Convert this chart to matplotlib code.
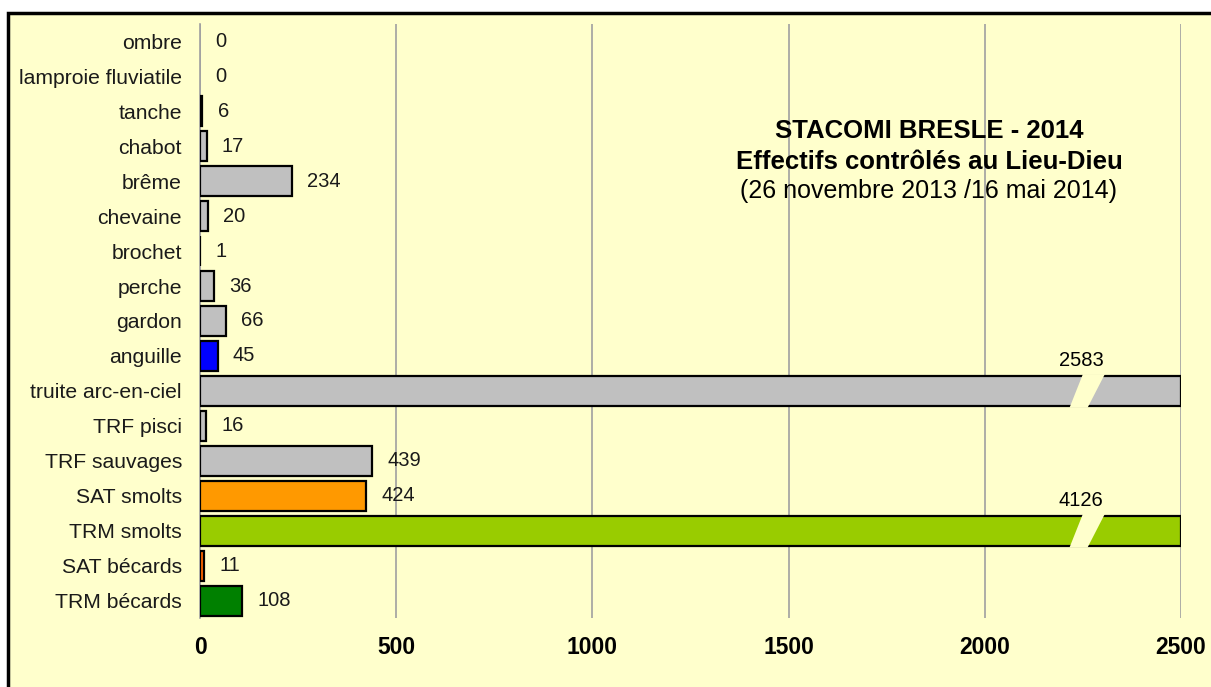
import matplotlib.pyplot as plt
from matplotlib.patches import Rectangle, Polygon

plt.rcParams['font.family'] = ['Liberation Sans', 'DejaVu Sans']

especes = ["ombre", "lamproie fluviatile", "tanche", "chabot", "brême", "chevaine",
           "brochet", "perche", "gardon", "anguille", "truite arc-en-ciel", "TRF pisci",
           "TRF sauvages", "SAT smolts", "TRM smolts", "SAT bécards", "TRM bécards"]
effectifs = [0, 0, 6, 17, 234, 20, 1, 36, 66, 45, 2583, 16, 439, 424, 4126, 11, 108]
couleurs = ["#C0C0C0", "#C0C0C0", "#C0C0C0", "#C0C0C0", "#C0C0C0", "#C0C0C0",
            "#C0C0C0", "#C0C0C0", "#C0C0C0", "#0000FF", "#C0C0C0", "#C0C0C0",
            "#C0C0C0", "#FF9900", "#99CC00", "#FF6600", "#008000"]
xmax = 2500
coupure = 2260   # position of the axis break drawn on the long bars

fond = "#FFFFCC"
fig = plt.figure(figsize=(12.11, 6.87), dpi=100, facecolor="white")
fig.patches.append(Rectangle((8 / 1211, -0.1), 1.2, 1.1 - 13 / 687,
                             transform=fig.transFigure, facecolor=fond,
                             edgecolor="black", linewidth=2.5, zorder=-10))
ax = fig.add_axes([200 / 1211, 1 - 618 / 687, 981 / 1211, 594 / 687])
ax.set_facecolor("none")

y = list(range(len(especes)))
ax.barh(y, [min(v, xmax) for v in effectifs], height=0.86, color=couleurs,
        edgecolor="black", linewidth=[1.6 if v > 0 else 0 for v in effectifs],
        zorder=3)

h = 0.86 / 2 + 0.05
for i, v in enumerate(effectifs):
    if v > xmax:
        ax.add_patch(Polygon([(coupure - 44, i + h), (coupure + 2, i + h),
                              (coupure + 46, i - h), (coupure - 10, i - h)],
                             closed=True, facecolor=fond, edgecolor="none", zorder=4))
        ax.text(coupure - 15, i - 0.6, str(v), ha="center", va="bottom",
                fontsize=14.5, zorder=5)
    else:
        ax.annotate(str(v), (v, i), xytext=(11, 0), textcoords="offset points",
                    ha="left", va="center", fontsize=14.5, color="#1a1a1a")

ax.set_xlim(0, xmax)
ax.set_ylim(len(especes) - 0.5, -0.5)
ax.set_xticks([0, 500, 1000, 1500, 2000, 2500])
ax.set_yticks(y)
ax.set_yticklabels(especes, fontsize=15.2, color="#1a1a1a")
for lab in ax.get_xticklabels():
    lab.set_fontweight("bold")
    lab.set_fontsize(16.5)
ax.tick_params(axis="y", length=0, pad=13)
ax.tick_params(axis="x", length=0, pad=13)
ax.grid(axis="x", color="#A0A0A0", linewidth=1.2, zorder=0)
for s in ["top", "right", "bottom"]:
    ax.spines[s].set_visible(False)
ax.spines["left"].set_color("#A0A0A0")
ax.spines["left"].set_linewidth(1.2)

fig.text(929 / 1211, 1 - 131 / 687, "STACOMI BRESLE - 2014", ha="center", va="center",
         fontsize=18.5, fontweight="bold")
fig.text(929 / 1211, 1 - 162 / 687, "Effectifs contrôlés au Lieu-Dieu", ha="center",
         va="center", fontsize=18.5, fontweight="bold")
fig.text(929 / 1211, 1 - 191 / 687, "(26 novembre 2013 /16 mai 2014)", ha="center",
         va="center", fontsize=18)

fig.savefig("out.png", dpi=100, facecolor="white")
